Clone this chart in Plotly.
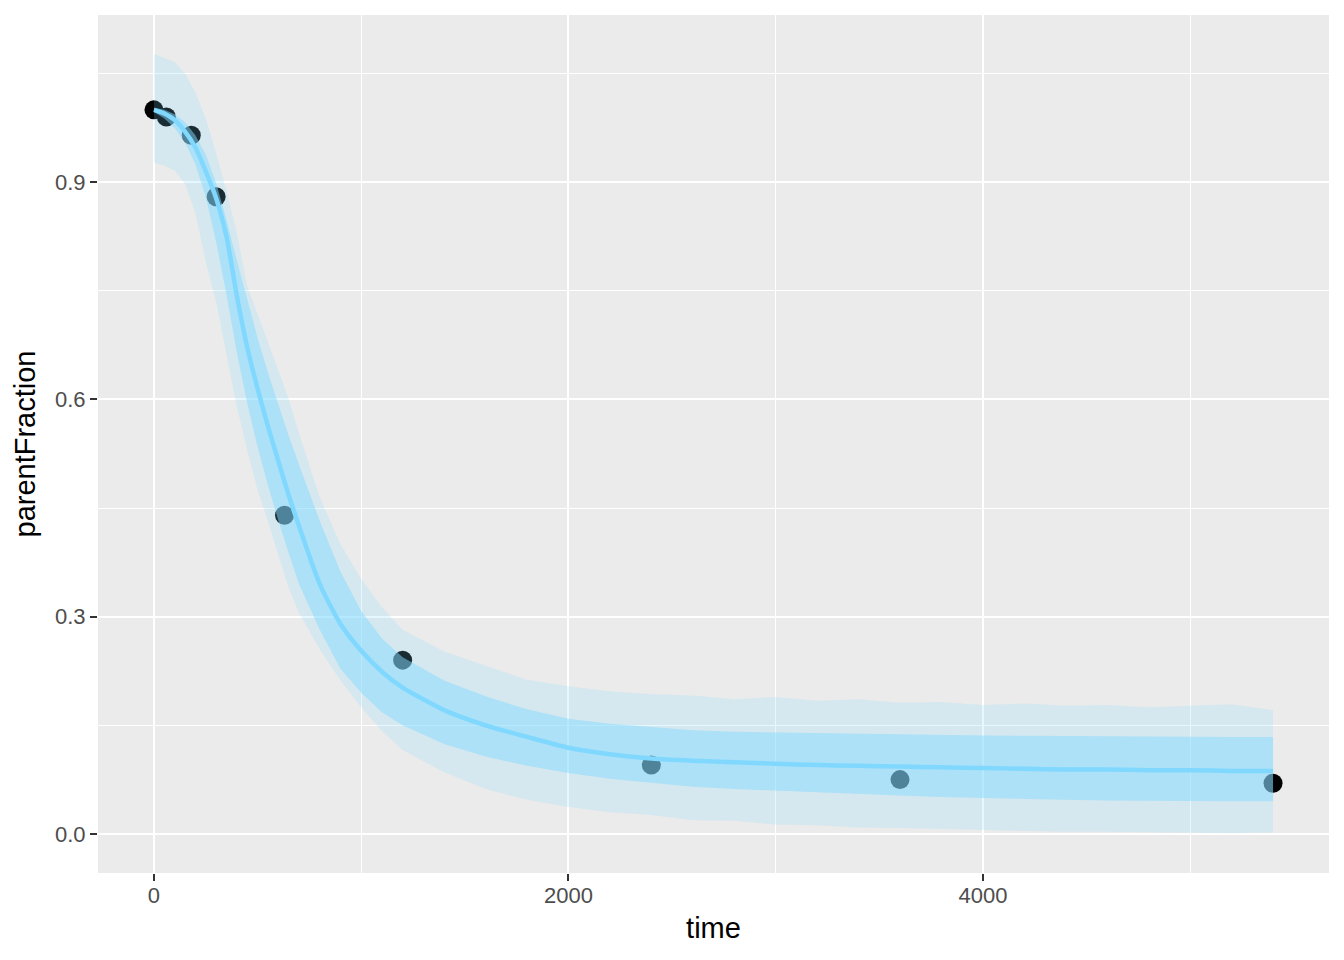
import plotly.graph_objects as go

# ---- data ----
time_grid = [0, 50, 100, 150, 200, 250, 300, 350, 400, 450, 500, 550, 600, 650, 700,
             800, 900, 1000, 1100, 1200, 1400, 1600, 1800, 2000, 2200, 2400, 2600,
             2800, 3000, 3200, 3400, 3600, 3800, 4000, 4200, 4400, 4600, 4800, 5000,
             5200, 5400]

median_fit = [1.000, 0.995, 0.986, 0.970, 0.948, 0.915, 0.878, 0.825, 0.743, 0.672,
              0.615, 0.563, 0.515, 0.468, 0.425, 0.345, 0.290, 0.253, 0.224, 0.202,
              0.171, 0.150, 0.134, 0.119, 0.110, 0.104, 0.101, 0.099, 0.097, 0.095,
              0.094, 0.093, 0.092, 0.091, 0.090, 0.089, 0.089, 0.088, 0.088, 0.087,
              0.087]

inner_upper = [1.003, 1.000, 0.994, 0.983, 0.965, 0.938, 0.899, 0.848, 0.792, 0.738,
               0.685, 0.637, 0.592, 0.550, 0.510, 0.432, 0.362, 0.308, 0.270, 0.244,
               0.212, 0.190, 0.172, 0.159, 0.152, 0.147, 0.143, 0.141, 0.140, 0.139,
               0.138, 0.137, 0.1365, 0.136, 0.1355, 0.135, 0.135, 0.134, 0.134, 0.134,
               0.134]

inner_lower = [0.997, 0.988, 0.975, 0.955, 0.925, 0.880, 0.818, 0.745, 0.665, 0.595,
               0.535, 0.482, 0.433, 0.388, 0.345, 0.282, 0.228, 0.195, 0.168, 0.150,
               0.124, 0.107, 0.094, 0.084, 0.076, 0.070, 0.065, 0.062, 0.059, 0.057,
               0.055, 0.053, 0.051, 0.049, 0.048, 0.047, 0.046, 0.046, 0.045, 0.045,
               0.045]

outer_upper = [1.077, 1.072, 1.066, 1.050, 1.024, 0.988, 0.940, 0.888, 0.830, 0.757,
               0.718, 0.680, 0.640, 0.601, 0.553, 0.465, 0.400, 0.352, 0.313, 0.282,
               0.252, 0.232, 0.213, 0.204, 0.197, 0.193, 0.191, 0.186, 0.189, 0.184,
               0.186, 0.181, 0.182, 0.178, 0.180, 0.177, 0.178, 0.175, 0.177, 0.179,
               0.171]

outer_lower = [0.927, 0.923, 0.916, 0.898, 0.857, 0.790, 0.735, 0.665, 0.590, 0.530,
               0.475, 0.432, 0.385, 0.340, 0.305, 0.255, 0.212, 0.175, 0.142, 0.116,
               0.085, 0.062, 0.047, 0.037, 0.030, 0.026, 0.019, 0.018, 0.013, 0.012,
               0.009, 0.008, 0.006, 0.006, 0.004, 0.003, 0.003, 0.002, 0.002, 0.001,
               0.002]

obs_time = [0, 60, 180, 300, 630, 1200, 2400, 3600, 5400]
obs_fraction = [1.0, 0.99, 0.965, 0.88, 0.44, 0.24, 0.095, 0.075, 0.07]

x_ticks = [0, 2000, 4000]
y_ticks = [0.0, 0.3, 0.6, 0.9]
y_tick_labels = ["0.0", "0.3", "0.6", "0.9"]

BAND = "130,218,255"
FONT = "Liberation Sans, Arial, sans-serif"

fig = go.Figure()

fig.add_trace(go.Scatter(
    x=obs_time, y=obs_fraction, mode="markers",
    marker=dict(size=19, color="black", line=dict(width=0)),
    showlegend=False, hoverinfo="skip"))

fig.add_trace(go.Scatter(
    x=time_grid + time_grid[::-1], y=outer_upper + outer_lower[::-1],
    mode="lines", fill="toself", fillcolor=f"rgba({BAND},0.2)",
    line=dict(width=0), showlegend=False, hoverinfo="skip"))

fig.add_trace(go.Scatter(
    x=time_grid + time_grid[::-1], y=inner_upper + inner_lower[::-1],
    mode="lines", fill="toself", fillcolor=f"rgba({BAND},0.5)",
    line=dict(width=0), showlegend=False, hoverinfo="skip"))

fig.add_trace(go.Scatter(
    x=time_grid, y=median_fit, mode="lines",
    line=dict(color="rgb(128,216,255)", width=4.5, shape="spline", smoothing=0.6),
    showlegend=False, hoverinfo="skip"))

fig.update_layout(
    width=1336, height=952,
    margin=dict(l=90, r=15, t=7, b=87),
    paper_bgcolor="white", plot_bgcolor="#EBEBEB",
    font=dict(family=FONT, color="black"),
    xaxis=dict(
        range=[-270, 5670], tickvals=x_ticks, ticktext=[str(v) for v in x_ticks],
        showgrid=True, gridcolor="white", gridwidth=2.2, zeroline=False,
        ticks="outside", ticklen=7, tickwidth=2.2, tickcolor="#333333",
        ticklabelstandoff=-4,
        tickfont=dict(size=22, color="#4D4D4D", family=FONT),
        minor=dict(tickvals=[1000, 3000, 5000], showgrid=True, gridcolor="white",
                   gridwidth=1.1, ticks=""),
        title=dict(text="time", font=dict(size=29, color="black", family=FONT),
                   standoff=10),
        automargin=False, showline=False),
    yaxis=dict(
        range=[-0.054, 1.131], tickvals=y_ticks, ticktext=y_tick_labels,
        showgrid=True, gridcolor="white", gridwidth=2.2, zeroline=False,
        ticks="outside", ticklen=7, tickwidth=2.2, tickcolor="#333333",
        tickfont=dict(size=22, color="#4D4D4D", family=FONT),
        minor=dict(tickvals=[0.15, 0.45, 0.75, 1.05], showgrid=True,
                   gridcolor="white", gridwidth=1.1, ticks=""),
        title=dict(text="parentFraction", font=dict(size=29, color="black", family=FONT),
                   standoff=10),
        automargin=False, showline=False),
)

fig.write_html("out.html")
